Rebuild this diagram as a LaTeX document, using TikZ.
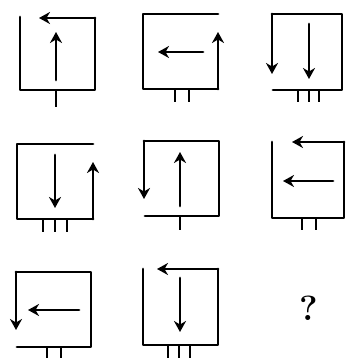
\documentclass[tikz,border=0pt]{standalone}
\usepackage{fontspec}
\usetikzlibrary{arrows.meta}
\begin{document}
\begin{tikzpicture}[x=1pt,y=-1pt,
  ln/.style={line width=2.8pt,line cap=round,line join=round},
  arr/.style={ln,-{Stealth[length=11pt,width=12pt,inset=3.5pt]}},
  stick/.style={line width=2.8pt}]
\useasboundingbox (0,0) rectangle (347,358);
% cell 1
\draw[ln] (20,17) -- (20,90) -- (95,90) -- (95,18);
\draw[arr] (95,18) -- (39,18);
\draw[arr] (56,80) -- (56,32);
\draw[stick] (56,90) -- (56,107);
% cell 2
\draw[ln] (218,14) -- (143,14) -- (143,89) -- (218,89);
\draw[arr] (218,89) -- (218,32);
\draw[arr] (203,52) -- (158,52);
\foreach \x in {175,189} \draw[stick] (\x,89) -- (\x,102);
% cell 3
\draw[ln] (272,14) -- (342,14) -- (342,90) -- (273,90);
\draw[arr] (272,14) -- (272,74);
\draw[arr] (309,24) -- (309,79);
\foreach \x in {298,309,319} \draw[stick] (\x,90) -- (\x,102);
% cell 4
\draw[ln] (93,144) -- (17,144) -- (17,219) -- (93,219);
\draw[arr] (93,219) -- (93,162);
\draw[arr] (55,155) -- (55,208);
\foreach \x in {43,55,67} \draw[stick] (\x,219) -- (\x,232);
% cell 5
\draw[ln] (145,216) -- (219,216) -- (219,141) -- (144,141);
\draw[arr] (144,141) -- (144,199);
\draw[arr] (180,206) -- (180,152);
\draw[stick] (180,216) -- (180,230);
% cell 6
\draw[ln] (272,142) -- (272,218) -- (344,218) -- (344,142);
\draw[arr] (344,142) -- (292,142);
\draw[arr] (333,181) -- (283,181);
\foreach \x in {302,316} \draw[stick] (\x,218) -- (\x,230);
% cell 7
\draw[ln] (17,347) -- (91,347) -- (91,272) -- (16,272);
\draw[arr] (16,272) -- (16,330);
\draw[arr] (79,310) -- (28,310);
\foreach \x in {47,61} \draw[stick] (\x,347) -- (\x,358);
% cell 8
\draw[ln] (143,269) -- (143,345) -- (218,345) -- (218,269);
\draw[arr] (218,269) -- (157,269);
\draw[arr] (180,278) -- (180,332);
\foreach \x in {168,179,190} \draw[stick] (\x,345) -- (\x,358);
% cell 9
\node[font=\bfseries\fontsize{35}{35}\selectfont,inner sep=0pt] (q) at (309,308) {?};
\end{tikzpicture}
\end{document}
